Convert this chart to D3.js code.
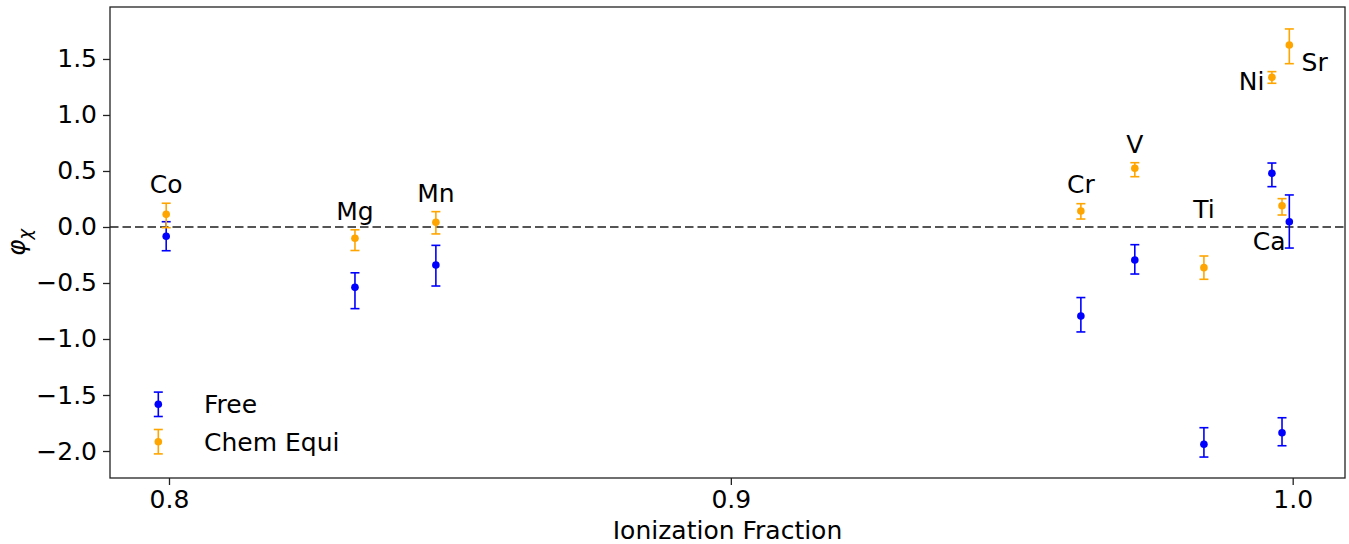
<!DOCTYPE html>
<html>
<head>
<meta charset="utf-8">
<script src="https://cdn.jsdelivr.net/npm/d3@7"></script>
<style>
  body { margin: 0; background: #fff; }
  text { font-family: "DejaVu Sans", sans-serif; }
</style>
</head>
<body>
<div id="chart"></div>
<script>
// Data
const elements = ["Co", "Mg", "Mn", "Cr", "V", "Ti", "Ni", "Sr", "Ca"];
const ionFrac = [0.7995, 0.8331, 0.8475, 0.9623, 0.9719, 0.9842, 0.9963, 0.9994, 0.9981];

// "Free" series: value, upper error, lower error
const freeVal = [-0.083, -0.539, -0.339, -0.795, -0.295, -1.940, 0.479, 0.047, -1.837];
const freeErrUp = [0.130, 0.130, 0.175, 0.165, 0.137, 0.148, 0.092, 0.239, 0.134];
const freeErrDn = [0.129, 0.190, 0.188, 0.142, 0.125, 0.114, 0.119, 0.235, 0.116];

// "Chem Equi" series
const chemVal = [0.113, -0.101, 0.042, 0.143, 0.524, -0.363, 1.336, 1.625, 0.190];
const chemErrUp = [0.099, 0.076, 0.095, 0.065, 0.050, 0.104, 0.051, 0.143, 0.063];
const chemErrDn = [0.119, 0.109, 0.104, 0.072, 0.075, 0.104, 0.053, 0.167, 0.083];

// label anchors in data units (text centre x, baseline y)
const labelX = [0.7995, 0.8331, 0.8475, 0.9623, 0.9719, 0.9842, 0.9927, 1.0039, 0.9958];
const labelY = [0.30, 0.0625, 0.226, 0.30, 0.663, 0.078, 1.223, 1.393, -0.205];

const xTicks = [0.8, 0.9, 1.0];
const yTicks = [-2.0, -1.5, -1.0, -0.5, 0.0, 0.5, 1.0, 1.5];

const seriesNames = ["Free", "Chem Equi"];
const seriesColors = ["#0000ff", "#ffa500"];

// Layout
const width = 1349, height = 544;
const margin = { left: 110, right: 4, top: 7, bottom: 66 };
const fontSize = 25;

const x = d3.scaleLinear()
  .domain([0.78950, 1.00931])
  .range([margin.left, width - margin.right]);
const y = d3.scaleLinear()
  .domain([-2.241, 1.964])
  .range([height - margin.bottom, margin.top]);

const svg = d3.select("#chart")
  .append("svg")
    .attr("width", width)
    .attr("height", height);

// zero line
svg.append("line")
  .attr("x1", x.range()[0]).attr("x2", x.range()[1])
  .attr("y1", y(0)).attr("y2", y(0))
  .attr("stroke", "#555")
  .attr("stroke-width", 2)
  .attr("stroke-dasharray", "8.5,4");

// build point data for both series
function seriesData(vals, up, dn) {
  return elements.map((el, i) => ({
    el: el, x: ionFrac[i], v: vals[i], hi: vals[i] + up[i], lo: vals[i] - dn[i]
  }));
}
const allSeries = [
  seriesData(freeVal, freeErrUp, freeErrDn),
  seriesData(chemVal, chemErrUp, chemErrDn)
];

const capHalf = 4.5;

// error bars + points
function drawErr(g, d, color) {
  const cx = x(d.x);
  g.append("line")
    .attr("x1", cx).attr("x2", cx)
    .attr("y1", y(d.hi)).attr("y2", y(d.lo))
    .attr("stroke", color).attr("stroke-width", 1.6);
  [d.hi, d.lo].forEach(function(v) {
    g.append("line")
      .attr("x1", cx - capHalf).attr("x2", cx + capHalf)
      .attr("y1", y(v)).attr("y2", y(v))
      .attr("stroke", color).attr("stroke-width", 1.6);
  });
  g.append("circle")
    .attr("cx", cx).attr("cy", y(d.v))
    .attr("r", 3.8)
    .attr("fill", color);
}

allSeries.forEach(function(data, s) {
  const g = svg.append("g");
  data.forEach(function(d) { drawErr(g, d, seriesColors[s]); });
});

// element labels
svg.append("g")
  .selectAll("text")
  .data(elements)
  .join("text")
    .attr("x", (d, i) => x(labelX[i]))
    .attr("y", (d, i) => y(labelY[i]))
    .attr("text-anchor", "middle")
    .attr("font-size", fontSize)
    .text(d => d);

// axes
const fmt = d3.format(".1f");
const xAxis = svg.append("g")
  .attr("transform", `translate(0,${height - margin.bottom})`)
  .call(d3.axisBottom(x).tickValues(xTicks).tickFormat(fmt).tickSizeOuter(0).tickSize(7).tickPadding(5));
const yAxis = svg.append("g")
  .attr("transform", `translate(${margin.left},0)`)
  .call(d3.axisLeft(y).tickValues(yTicks).tickFormat(fmt).tickSizeOuter(0).tickSize(7).tickPadding(6));

[xAxis, yAxis].forEach(function(a) {
  a.select(".domain").remove();
  a.selectAll(".tick line").attr("stroke", "#222").attr("stroke-width", 1.3);
  a.selectAll(".tick text")
    .attr("font-size", fontSize)
    .attr("font-family", "DejaVu Sans, sans-serif")
    .attr("fill", "#000");
});

// frame
svg.append("rect")
  .attr("x", x.range()[0]).attr("y", y.range()[1])
  .attr("width", x.range()[1] - x.range()[0])
  .attr("height", y.range()[0] - y.range()[1])
  .attr("fill", "none")
  .attr("stroke", "#222")
  .attr("stroke-width", 1.3);

// axis titles
svg.append("text")
  .attr("x", (x.range()[0] + x.range()[1]) / 2)
  .attr("y", 539)
  .attr("text-anchor", "middle")
  .attr("font-size", fontSize)
  .text("Ionization Fraction");

const yTitle = svg.append("text")
  .attr("transform", `translate(25,${(y.range()[0] + y.range()[1]) / 2}) rotate(-90)`)
  .attr("text-anchor", "middle")
  .attr("font-size", fontSize)
  .attr("font-style", "italic");
yTitle.append("tspan").text("φ");
yTitle.append("tspan").attr("font-size", 18).attr("dy", 6).text("χ");

// legend
const legend = svg.append("g");
seriesNames.forEach(function(name, i) {
  const ly = 404.3 + i * 37.4;
  const lx = 158.3;
  const c = seriesColors[i];
  legend.append("line")
    .attr("x1", lx).attr("x2", lx)
    .attr("y1", ly - 12.2).attr("y2", ly + 12.2)
    .attr("stroke", c).attr("stroke-width", 1.6);
  [ly - 12.2, ly + 12.2].forEach(function(v) {
    legend.append("line")
      .attr("x1", lx - capHalf).attr("x2", lx + capHalf)
      .attr("y1", v).attr("y2", v)
      .attr("stroke", c).attr("stroke-width", 1.6);
  });
  legend.append("circle").attr("cx", lx).attr("cy", ly).attr("r", 3.8).attr("fill", c);
  legend.append("text")
    .attr("x", 204).attr("y", ly + 9)
    .attr("font-size", fontSize)
    .text(name);
});
</script>
</body>
</html>
